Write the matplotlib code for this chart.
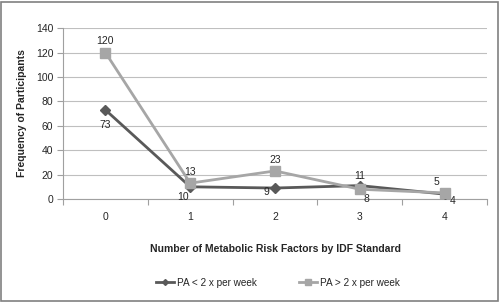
import matplotlib.pyplot as plt
from matplotlib.patches import Rectangle

categories = ["0", "1", "2", "3", "4"]
pa_low = [73, 10, 9, 11, 4]
pa_high = [120, 13, 23, 8, 5]
series_names = ["PA < 2 x per week", "PA > 2 x per week"]

DARK = "#595959"
LIGHT = "#a6a6a6"
TEXT = "#262626"

plt.rcParams["font.family"] = ["Liberation Sans", "DejaVu Sans"]

fig = plt.figure(figsize=(5.0, 3.02), dpi=100)
ax = fig.add_axes([0.126, 0.341, 0.848, 0.566])

xs = list(range(len(categories)))
ax.plot(xs, pa_low, color=DARK, lw=2.0, marker="D", ms=5, zorder=3,
        label=series_names[0])
ax.plot(xs, pa_high, color=LIGHT, lw=2.0, marker="s", ms=7, zorder=4,
        label=series_names[1])

# data label nudges in points (dx, dy)
low_off = [(0, -11), (-5, -7), (-6, -3), (0, 7), (6, -5)]
high_off = [(0, 8), (0, 8), (0, 8), (5, -7), (-6, 8)]
for x, v, (dx, dy) in zip(xs, pa_low, low_off):
    ax.annotate(str(v), (x, v), textcoords="offset points", xytext=(dx, dy),
                ha="center", va="center", fontsize=7.5, color=TEXT)
for x, v, (dx, dy) in zip(xs, pa_high, high_off):
    ax.annotate(str(v), (x, v), textcoords="offset points", xytext=(dx, dy),
                ha="center", va="center", fontsize=7.5, color=TEXT)

ax.set_xlim(-0.5, 4.5)
ax.set_ylim(0, 140)
ax.set_yticks(range(0, 141, 20))
ax.set_xticks(xs)
ax.set_xticklabels(categories)
ax.set_xticks([i - 0.5 for i in range(6)], minor=True)
ax.tick_params(axis="x", which="major", length=0, pad=9, labelsize=7.5,
               labelcolor=TEXT)
ax.tick_params(axis="x", which="minor", length=4, color="#a0a0a0", width=0.8)
ax.tick_params(axis="y", length=4, color="#a0a0a0", width=0.8, labelsize=7.5,
               labelcolor=TEXT, pad=3)

ax.grid(axis="y", color="#bfbfbf", lw=0.8)
ax.set_axisbelow(True)
for s in ["top", "right"]:
    ax.spines[s].set_visible(False)
for s in ["left", "bottom"]:
    ax.spines[s].set_color("#a0a0a0")
    ax.spines[s].set_linewidth(0.8)

ax.set_ylabel("Frequency of Participants", fontsize=7.5, fontweight="bold",
              color=TEXT, labelpad=6)
ax.set_xlabel("Number of Metabolic Risk Factors by IDF Standard", fontsize=7.5,
              fontweight="bold", color=TEXT, labelpad=16)

fig.legend(loc="center", bbox_to_anchor=(0.555, 0.063), ncol=2, frameon=False,
           fontsize=7.2, handlelength=1.8, handletextpad=0.3, columnspacing=4.2,
           markerscale=0.6, labelcolor=TEXT)

fig.patches.append(Rectangle((0.002, 0.003), 0.994, 0.992, transform=fig.transFigure,
                             fill=False, edgecolor="#808080", lw=1.2))

fig.savefig("out.png", dpi=100, facecolor="white")
